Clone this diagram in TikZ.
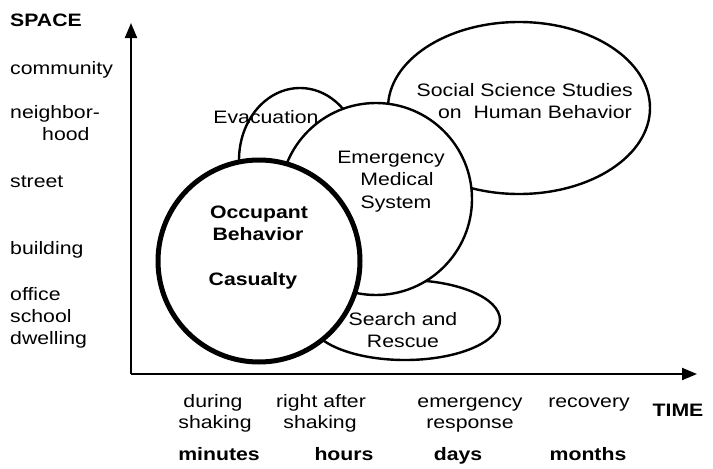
\documentclass[tikz,border=0pt]{standalone}
\usepackage{fontspec}
\setmainfont{Liberation Sans}[FakeStretch=1.18]
\usetikzlibrary{shapes.geometric,arrows.meta}
\begin{document}
\begin{tikzpicture}[x=1pt,y=-1pt,
  lbl/.style={anchor=base, inner sep=0pt, font=\fontsize{18}{22}\selectfont},
  lblw/.style={lbl, anchor=base west},
  bld/.style={lbl, font=\fontsize{18}{22}\selectfont\bfseries},
  bldw/.style={bld, anchor=base west},
  axis/.style={line width=2pt, -{Triangle[length=15pt,width=12pt]}},
  zone/.style={ellipse, draw, fill=white, line width=2.4pt, inner sep=0pt},
]
\useasboundingbox (0,0) rectangle (713,469);

% axes
\coordinate (o) at (131,374);
\coordinate (ytop) at (131,23);
\coordinate (xend) at (697,374);
\draw[axis] (o) -- (ytop);
\draw[axis] (o) -- (xend);

% overlapping study areas, back to front
\node[zone, minimum width=262, minimum height=172] (social) at (519,108) {};
\node[zone, minimum width=190, minimum height=80] (search) at (405,320) {};
\node[zone, minimum width=122, minimum height=144] (evac) at (300,160) {};
\node[zone, circle, minimum size=192] (ems) at (376,199) {};
\node[zone, circle, minimum size=202, line width=5pt] (occ) at (259,261) {};

% labels inside the areas
\node[lbl] (t-evac) at (266,123) {Evacuation};
\node[lbl] (t-ems1) at (391,163) {Emergency};
\node[lbl] (t-ems2) at (397,185) {Medical};
\node[lbl] (t-ems3) at (396,208) {System};
\node[lbl, anchor=base east] (t-soc1) at (633,96) {Social Science Studies};
\node[lbl, anchor=base east] (t-soc2) at (632,118) {on\ \ Human Behavior};
\node[lbl] (t-sr1) at (403,325) {Search and};
\node[lbl] (t-sr2) at (403,347) {Rescue};
\node[bld] (t-occ1) at (259,218) {Occupant};
\node[bld] (t-occ2) at (258,240) {Behavior};
\node[bld] (t-cas) at (253,285) {Casualty};

% space axis
\node[bldw] (space) at (10,26) {SPACE};
\node[lblw] (s1) at (10,74) {community};
\node[lblw] (s2) at (10,118) {neighbor-};
\node[lblw] (s2b) at (42,140) {hood};
\node[lblw] (s3) at (10,187) {street};
\node[lblw] (s4) at (10,254) {building};
\node[lblw] (s5) at (10,300) {office};
\node[lblw] (s6) at (10,322) {school};
\node[lblw] (s7) at (10,344) {dwelling};

% time axis
\node[bld] (time) at (678,416) {TIME};
\node[lbl] (p1a) at (213,407) {during};
\node[lbl] (p1b) at (215,428) {shaking};
\node[lbl] (p2a) at (321,407) {right after};
\node[lbl] (p2b) at (320,428) {shaking};
\node[lbl] (p3a) at (470,407) {emergency};
\node[lbl] (p3b) at (470,428) {response};
\node[lbl] (p4a) at (589,407) {recovery};
\node[bld] (u1) at (219,460) {minutes};
\node[bld] (u2) at (344,460) {hours};
\node[bld] (u3) at (458,460) {days};
\node[bld] (u4) at (588,460) {months};
\end{tikzpicture}
\end{document}
